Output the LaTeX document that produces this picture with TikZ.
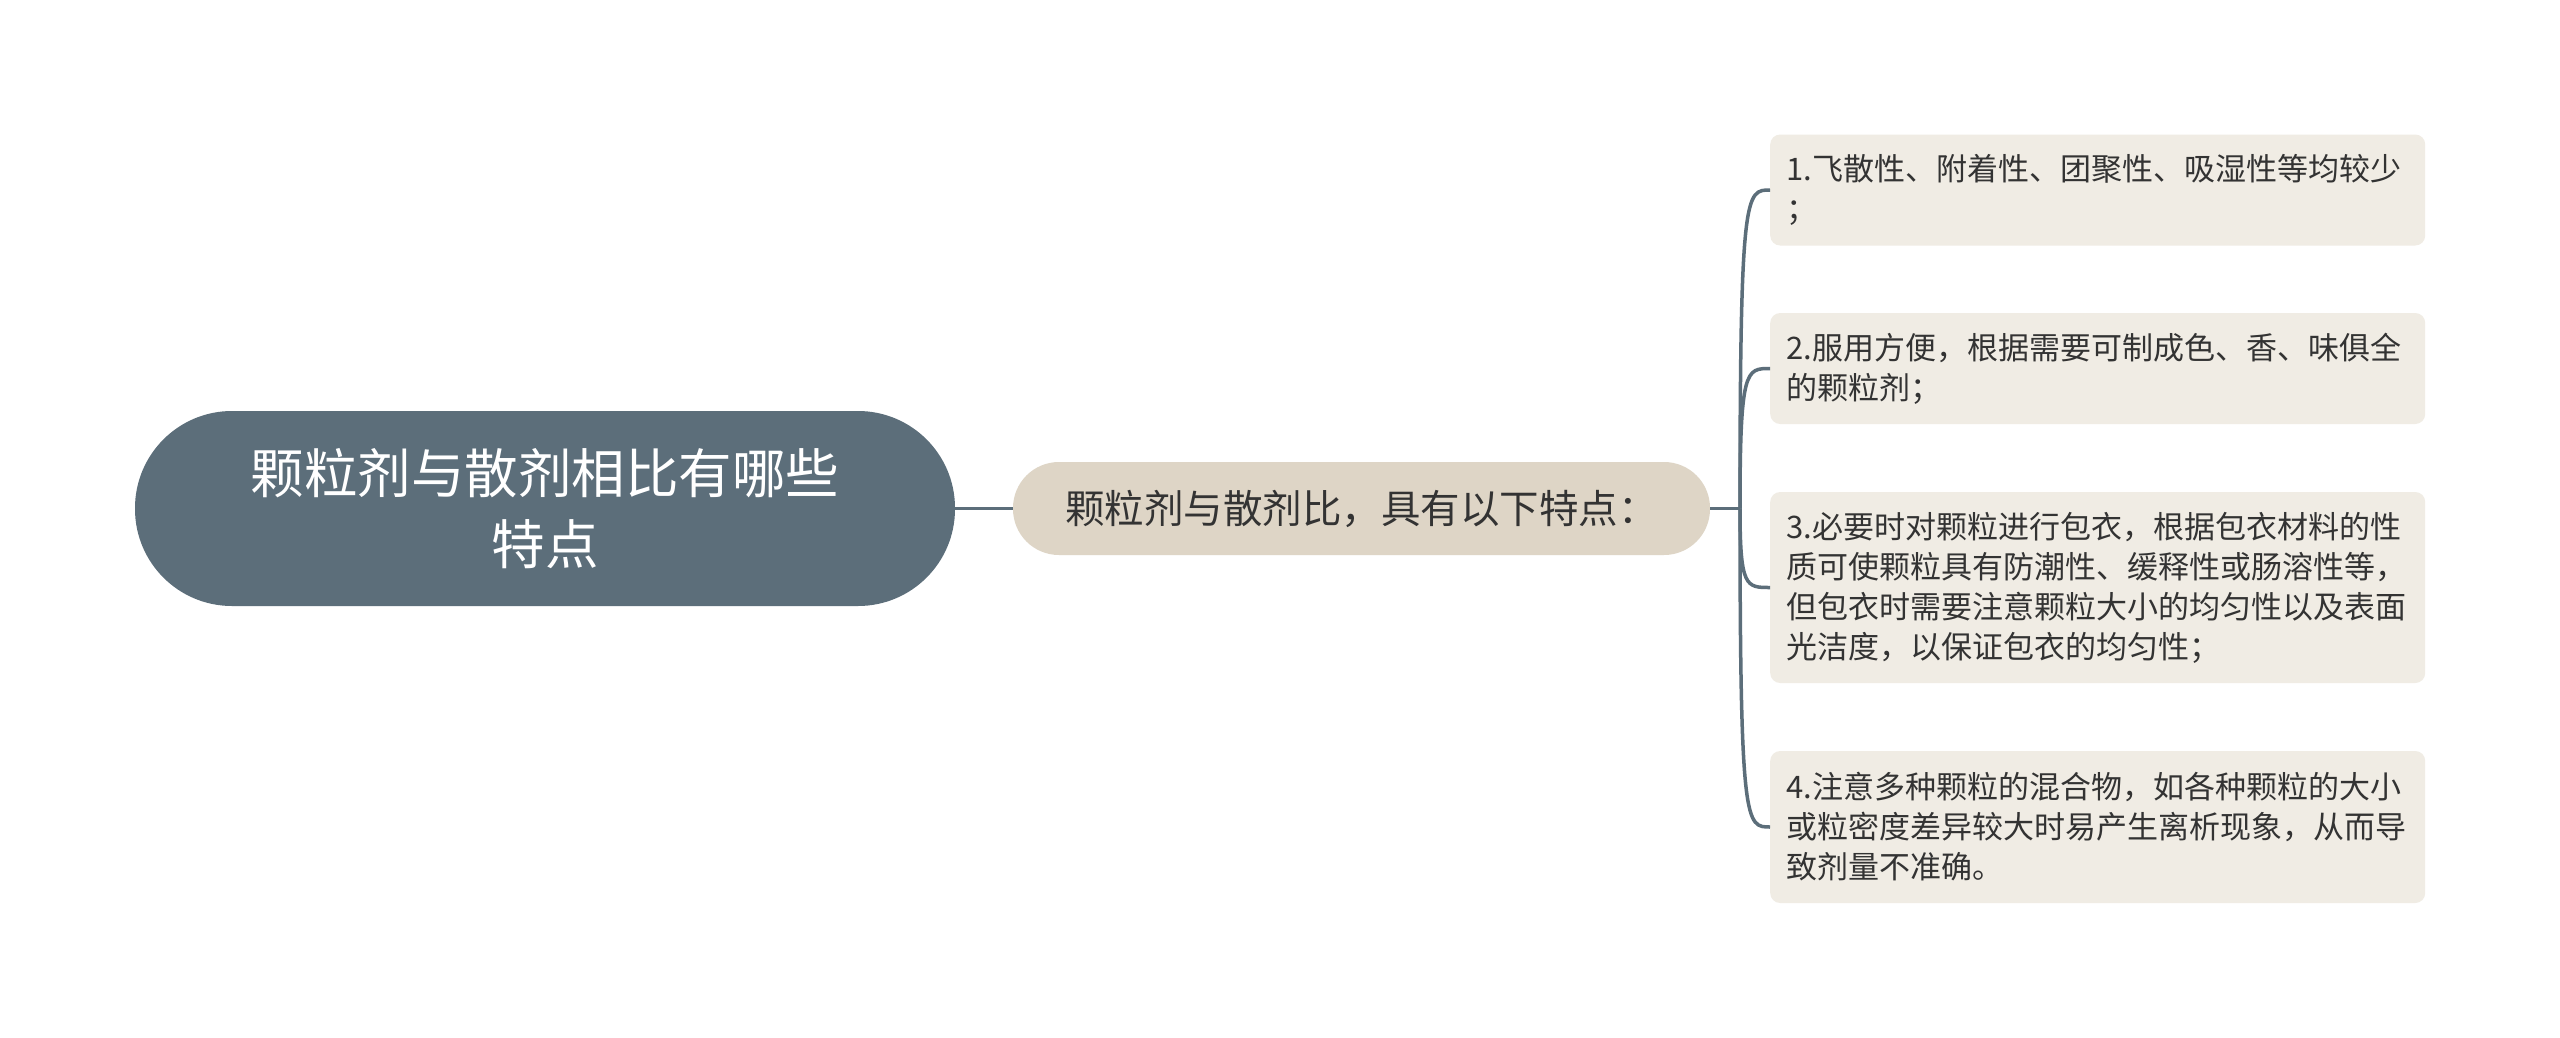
\documentclass[tikz,border=0pt]{standalone}
\usepackage{fontspec}
\setmainfont{Noto Sans CJK SC}
\definecolor{rootfill}{RGB}{92,110,122}
\definecolor{midfill}{RGB}{222,213,198}
\definecolor{leaffill}{RGB}{240,236,228}
\definecolor{linec}{RGB}{92,110,122}
\definecolor{txt}{RGB}{51,51,51}
\begin{document}
\begin{tikzpicture}[x=1pt,y=-1pt,
  rootbox/.style={draw=none,fill=rootfill,text=white,rounded corners=97pt,minimum width=820pt,minimum height=195pt,align=center,inner sep=0pt,font=\fontsize{53.5}{71}\selectfont},
  midbox/.style={draw=none,fill=midfill,text=txt,rounded corners=46pt,minimum width=697pt,minimum height=93pt,align=center,inner sep=0pt,font=\fontsize{39.5}{48}\selectfont},
  leafbox/.style={draw=none,fill=leaffill,text=txt,rounded corners=10pt,text width=623pt,inner xsep=16pt,inner ysep=0pt,align=left,anchor=west,font=\fontsize{31}{40}\selectfont},
  edge/.style={draw=linec,line width=3.5pt}]
\useasboundingbox (0,0) rectangle (2560,1037);
\fill[white] (0,0) rectangle (2560,1037);
\node[rootbox] (root) at (545,508.5) {颗粒剂与散剂相比有哪些\\特点};
\node[midbox] (mid) at (1361.5,508.5) {颗粒剂与散剂比，具有以下特点：};
\coordinate (hub) at (1740,508.5);
\node[leafbox,minimum height=111pt] (n1) at (1770,190) {1.飞散性、附着性、团聚性、吸湿性等均较少\\；};
\node[leafbox,minimum height=111pt] (n2) at (1770,368.5) {2.服用方便，根据需要可制成色、香、味俱全\\的颗粒剂；};
\node[leafbox,minimum height=191pt] (n3) at (1770,587.5) {3.必要时对颗粒进行包衣，根据包衣材料的性\\质可使颗粒具有防潮性、缓释性或肠溶性等，\\但包衣时需要注意颗粒大小的均匀性以及表面\\光洁度，以保证包衣的均匀性；};
\node[leafbox,minimum height=152pt] (n4) at (1770,827) {4.注意多种颗粒的混合物，如各种颗粒的大小\\或粒密度差异较大时易产生离析现象，从而导\\致剂量不准确。};
\draw[edge] (root.east) -- (mid.west);
\draw[edge] (mid.east) -- (hub);
\draw[edge] (hub) .. controls (1740,190) and (1746,190) .. (n1.west);
\draw[edge] (hub) .. controls (1740,368.5) and (1746,368.5) .. (n2.west);
\draw[edge] (hub) .. controls (1740,587.5) and (1746,587.5) .. (n3.west);
\draw[edge] (hub) .. controls (1740,827) and (1746,827) .. (n4.west);
\end{tikzpicture}
\end{document}
